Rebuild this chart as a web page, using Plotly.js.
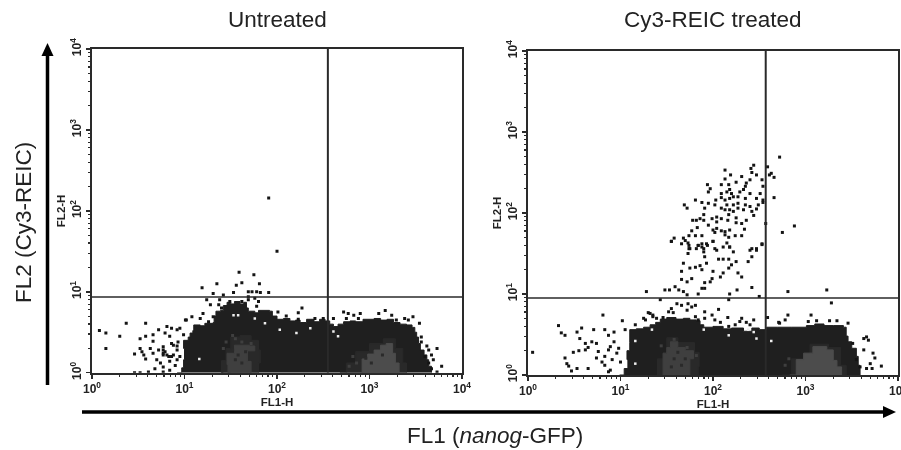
<!DOCTYPE html>
<html><head><meta charset="utf-8">
<script src="https://cdn.plot.ly/plotly-3.0.1.min.js"></script>
<style>html,body{margin:0;padding:0;background:#fff}#c{width:901px;height:450px;filter:blur(0.35px)}</style>
</head><body><div id="c"></div>
<script>
// All values are log10 of fluorescence intensity: [log10 FL1-H, log10 FL2-H]
const panelTitles = ["Untreated", "Cy3-REIC treated"];
const decades = [0, 1, 2, 3, 4];
const gateUntreated = [2.55, 0.936];
const gateTreated = [2.57, 0.95];

const denseUntreated = [[.92,0],[.97,.06],[.99,.16],[1.0,.30],[.99,.40],[1.04,.44],[1.06,.49],[1.09,.52],[1.10,.59],[1.17,.58],[1.22,.61],[1.31,.62],[1.32,.70],[1.34,.76],[1.39,.77],[1.42,.83],[1.46,.87],[1.50,.85],[1.54,.88],[1.60,.85],[1.64,.87],[1.67,.80],[1.69,.76],[1.76,.74],[1.80,.77],[1.92,.76],[1.95,.70],[2.0,.66],[2.07,.67],[2.14,.64],[2.20,.65],[2.25,.62],[2.32,.66],[2.40,.63],[2.46,.66],[2.52,.64],[2.57,.60],[2.61,.57],[2.66,.60],[2.72,.63],[2.79,.64],[2.85,.63],[2.93,.66],[3.05,.67],[3.12,.65],[3.19,.66],[3.26,.62],[3.33,.60],[3.40,.59],[3.46,.56],[3.49,.50],[3.51,.44],[3.53,.36],[3.55,.28],[3.59,.22],[3.62,.16],[3.64,.08],[3.67,0]];
const haloUntreated1 = [[1.42,0],[1.40,.15],[1.45,.30],[1.50,.44],[1.60,.46],[1.72,.40],[1.80,.28],[1.82,.12],[1.80,0]];
const haloUntreated2 = [[2.68,0],[2.75,.12],[2.85,.26],[3.00,.36],[3.15,.42],[3.28,.30],[3.36,.12],[3.40,0]];
const peakUntreated1 = [[1.50,0],[1.47,.10],[1.46,.24],[1.54,.34],[1.70,.33],[1.76,.27],[1.68,.14],[1.72,0]];
const peakUntreated2 = [[2.88,0],[2.92,.17],[2.98,.23],[3.05,.28],[3.12,.34],[3.18,.36],[3.25,.24],[3.28,.12],[3.32,0]];
const speckUntreated = [[1.45,.38],[1.55,.42],[1.62,.38],[1.72,.36],[1.42,.30],[1.52,.46],[2.82,.20],[2.86,.12],[2.78,.08]];
const darkSpeckUntreated = [[1.58,.22],[1.62,.12],[1.55,.16],[1.66,.26],[1.52,.28],[3.02,.12],[3.14,.22],[2.96,.18]];
const holesUntreated = [[1.58,.71],[1.76,.67],[1.87,.61],[2.03,.53],[2.21,.49],[1.16,.17],[2.36,.55],[2.66,.45],[2.61,.51],[1.53,.71]];
const eventsUntreated = [[1.91,2.16],[2.0,1.50],[1.59,1.24],[1.75,1.21],[1.35,1.10],[1.19,1.05],[1.62,1.11],[1.56,1.08],[1.81,1.10],[1.73,1.00],[1.78,1.00],[1.69,1.00],[1.31,.98],[1.42,.96],[1.53,.99],[1.91,.99],[1.82,.99],[1.69,.94],[1.76,.92],[1.69,.90],[1.80,.88],[1.24,.90],[1.38,.90],[1.49,.88],[1.62,.88],[1.28,.84],[1.37,.84],[1.40,.80],[1.78,.82],[2.27,.80],[2.23,.74],[1.20,.73],[1.08,.69],[1.02,.65],[1.17,.67],[1.26,.63],[1.31,.69],[2.01,.75],[2.10,.70],[2.23,.66],[2.41,.67],[2.50,.67],[2.72,.75],[2.77,.73],[2.83,.71],[2.88,.67],[3.10,.73],[3.17,.77],[3.24,.71],[3.29,.65],[3.38,.67],[3.47,.69],[3.54,.61],[3.42,.65],[2.75,.67],[2.61,.67],[2.90,.73],
[.08,.52],[.15,.49],[.30,.45],[.37,.61],[.58,.61],[.15,.30],[.58,.45],[.52,.42],[.66,.47],[.66,.39],[.72,.53],[.81,.57],[.86,.55],[.79,.49],[.84,.45],[.92,.53],[.95,.55],[1.01,.65],[.63,.30],[.52,.30],[.46,.23],[.54,.26],[.56,.22],[.58,.17],[.66,.24],[.72,.28],[.77,.32],[.79,.26],[.77,.22],[.83,.20],[.88,.22],[.92,.28],[.88,.34],[.93,.38],[.99,.47],[.70,.16],[.74,.12],[.68,.05],[.77,.07],[.84,.14],[.90,.09],[.84,.03],[.77,.01],[.61,.01],[.52,0],[.46,0],[.95,.20],[.92,.16],[.77,.28],[.77,.24],[.81,.22],[.86,.20],[.92,.33],[.86,.36],
[3.56,.44],[3.56,.38],[3.62,.33],[3.73,.30],[3.64,.28],[3.67,.22],[3.69,.16],[3.64,.12],[3.67,.05],[3.78,.08],[3.60,.20],[3.73,.01]];

const denseTreated = [[.99,0],[1.04,.08],[1.08,.19],[1.07,.30],[1.10,.40],[1.10,.56],[1.17,.57],[1.25,.59],[1.32,.62],[1.38,.65],[1.43,.69],[1.50,.71],[1.60,.69],[1.68,.70],[1.75,.68],[1.82,.67],[1.86,.62],[1.90,.59],[2.00,.60],[2.11,.57],[2.20,.58],[2.33,.54],[2.42,.58],[2.50,.56],[2.58,.59],[2.70,.59],[2.85,.59],[3.01,.61],[3.10,.63],[3.20,.61],[3.30,.61],[3.41,.59],[3.44,.48],[3.46,.41],[3.50,.33],[3.55,.23],[3.57,.12],[3.59,0]];
const haloTreated1 = [[1.42,0],[1.40,.20],[1.50,.46],[1.62,.40],[1.80,.28],[1.85,.10],[1.84,0]];
const haloTreated2 = [[2.75,0],[2.85,.20],[3.05,.38],[3.25,.34],[3.38,.12],[3.44,0]];
const peakTreated1 = [[1.50,0],[1.46,.27],[1.50,.34],[1.54,.41],[1.62,.34],[1.70,.30],[1.79,.20],[1.75,0]];
const peakTreated2 = [[2.83,0],[2.90,.19],[2.98,.27],[3.08,.35],[3.23,.31],[3.30,.18],[3.34,.10],[3.39,0]];
const speckTreated = [[1.44,.36],[1.58,.44],[1.72,.34],[1.82,.24],[2.78,.12],[2.82,.20]];
const darkSpeckTreated = [[1.58,.20],[1.66,.12],[1.55,.10],[1.62,.28],[1.70,.20]];
const holesTreated = [[1.34,.56],[1.16,.42],[1.16,.14],[1.90,.56],[2.17,.49],[2.38,.56],[2.44,.53],[2.47,.45],[2.63,.42]];
const eventsTreated = [[2.72,2.69],[2.59,2.57],[2.63,2.49],[2.66,2.44],[2.61,2.47],[2.66,2.19],[2.88,1.84],[2.75,1.76],[2.44,2.59],[2.41,2.55],[2.13,2.53],[2.19,2.47],[2.42,2.50],[2.47,2.47],[2.31,2.45],[2.13,2.42],[2.25,2.38],[2.40,2.41],[2.36,2.37],[2.35,2.33],[2.33,2.29],[2.29,2.26],[2.53,2.41],[2.54,2.33],[2.51,2.24],[2.09,2.35],[1.94,2.35],[1.97,2.30],[1.95,2.26],[2.17,2.35],[2.18,2.29],[2.15,2.26],[2.20,2.24],[2.22,2.20],[2.09,2.24],[1.81,2.16],[1.69,2.10],[1.72,2.06],[1.88,2.13],[1.95,2.12],[2.03,2.16],[2.09,2.19],[2.13,2.16],[2.18,2.18],[2.27,2.20],[2.35,2.18],[2.40,2.24],[2.47,2.18],[2.54,2.13],[2.49,2.10],[2.40,2.08],[2.35,2.10],[2.27,2.12],[2.22,2.10],[2.15,2.10],[2.18,2.04],[2.13,2.04],[2.09,2.06],[2.02,2.10],[1.91,2.06],[1.90,1.98],[1.86,1.93],[1.78,1.91],[1.82,1.91],[1.90,1.91],[1.99,1.93],[2.04,1.95],[2.09,1.93],[2.17,1.98],[2.22,2.02],[2.27,2.06],[2.33,2.04],[2.47,2.05],[2.42,2.02],[2.44,1.97],[2.36,1.91],[2.31,1.87],[2.25,1.94],[2.25,1.88],[2.16,1.91],[2.04,1.89],[1.95,1.85],[1.83,1.82],[1.77,1.78],[1.74,1.72],[1.81,1.72],[1.88,1.72],[2.00,1.79],[2.04,1.81],[2.02,1.76],[2.09,1.78],[2.13,1.77],[2.18,1.79],[2.13,1.73],[2.17,1.70],[2.24,1.72],[2.31,1.72],[2.34,1.80],[1.58,1.69],[1.55,1.65],[1.68,1.69],[1.70,1.66],[1.74,1.60],[1.84,1.60],[1.88,1.58],[1.94,1.60],[2.00,1.65],[2.15,1.63],[2.18,1.58],[2.42,1.56],[2.47,1.56],[2.53,1.61],[2.57,1.87],[2.54,2.16],[1.74,1.56],[1.90,1.56],[2.02,1.56],
[1.66,1.62],[1.55,1.65],[1.73,1.63],[1.75,1.56],[1.73,1.50],[1.84,1.60],[1.88,1.62],[1.93,1.62],[1.82,1.56],[1.90,1.52],[1.91,1.46],[2.00,1.65],[2.04,1.54],[2.06,1.43],[2.11,1.58],[2.18,1.58],[2.22,1.52],[2.11,1.43],[2.17,1.43],[2.20,1.36],[2.25,1.40],[2.38,1.40],[2.42,1.46],[2.40,1.54],[2.47,1.54],[2.53,1.62],[1.68,1.38],[1.66,1.28],[1.75,1.32],[1.81,1.33],[1.86,1.35],[1.93,1.38],[1.88,1.30],[1.72,1.15],[1.66,1.18],[1.77,1.19],[1.91,1.14],[1.97,1.15],[2.00,1.28],[1.99,1.19],[2.08,1.21],[2.11,1.26],[2.17,1.32],[2.27,1.26],[2.31,1.21],[2.42,1.08],[2.26,1.05],[2.18,1.00],[1.59,1.09],[1.63,1.05],[1.68,1.03],[1.72,.99],[1.84,1.00],[1.88,1.07],[1.91,1.07],[1.48,1.05],[1.53,1.05],[1.28,1.03],[1.43,.93],[2.17,.93],[2.50,.97],[2.81,1.03],[1.61,.88],[1.55,.82],[1.52,.78],[1.57,.77],[1.66,.86],[1.73,.88],[1.77,.84],[1.72,.80],[1.81,.86],[1.91,.78],[2.06,.81],[1.91,.70],[1.99,.74],[2.02,.68],[2.08,.65],[2.16,.71],[2.31,.70],[2.36,.65],[2.44,.68],[2.59,.71],[2.71,.65],[2.78,.68],[2.17,.60],[2.24,.62],[2.29,.66],[2.40,.62],[1.30,.77],[1.35,.74],[1.39,.70],[1.25,.70],[1.46,.71],[1.81,.72],[1.84,.68],
[3.23,1.05],[3.28,.89],[2.81,.74],[3.06,.74],[2.72,.64],[3.46,.64],[3.34,.67],[3.26,.67],[3.12,.67],[3.03,.66],[3.66,.47],[3.63,.45],[3.68,.43],[3.63,.31],[3.73,.27],[3.75,.21],[3.70,.14],[3.66,.08],[3.82,.11],[3.55,.19],[3.72,.08],[3.59,.10],[3.51,.39],
[.05,.28],[.33,.61],[.36,.52],[.40,.49],[.53,.53],[.58,.58],[.71,.56],[.83,.56],[.81,.74],[.56,.45],[.62,.39],[.69,.41],[.74,.39],[.49,.28],[.55,.30],[.62,.31],[.65,.34],[.76,.29],[.74,.21],[.40,.21],[.42,.14],[.44,.11],[.47,.05],[.53,.08],[.65,.08],[.83,.23],[.87,.31],[.89,.35],[.87,.49],[.93,.53],[1.02,.67],[1.05,.56],[.83,.12],[.87,.04],[.89,.06],[.80,.16],[.96,.27],[.98,.33],[.93,.41],[1.0,.16],[.91,.19],[1.27,.68],[1.32,.76],[1.35,.72],[1.16,.62]];

const pow = v => Math.pow(10, v);
const xs = a => a.map(p => pow(p[0]));
const ys = a => a.map(p => pow(p[1]));

function region(a, color, xa, ya) {
  return {x: xs(a), y: ys(a), xaxis: xa, yaxis: ya, mode: 'lines', fill: 'toself', fillcolor: color,
    line: {color: color, width: 1, shape: 'hv'}, hoverinfo: 'skip', showlegend: false};
}
function dots(a, color, xa, ya, size) {
  return {x: xs(a), y: ys(a), xaxis: xa, yaxis: ya, mode: 'markers', type: 'scatter',
    marker: {symbol: 'square', size: size, color: color, line: {width: 0}}, showlegend: false};
}
function gate(g, xa, ya) {
  return [
    {x: [pow(g[0]), pow(g[0])], y: [1, 10000], xaxis: xa, yaxis: ya, mode: 'lines', line: {color: '#2a2a2a', width: 2}, showlegend: false},
    {x: [1, 10000], y: [pow(g[1]), pow(g[1])], xaxis: xa, yaxis: ya, mode: 'lines', line: {color: '#2a2a2a', width: 1.6}, showlegend: false}
  ];
}
const data = [
  region(denseUntreated, '#1f1f1f', 'x', 'y'),
  region(haloUntreated1, '#292929', 'x', 'y'),
  region(haloUntreated2, '#292929', 'x', 'y'),
  region(peakUntreated1, '#3f3f3f', 'x', 'y'),
  region(peakUntreated2, '#4c4c4c', 'x', 'y'),
  dots(speckUntreated, '#3f3f3f', 'x', 'y', 3),
  dots(darkSpeckUntreated, '#2a2a2a', 'x', 'y', 3),
  dots(holesUntreated, '#eeeeee', 'x', 'y', 2.5),
  dots(eventsUntreated, '#141414', 'x', 'y', 3),
  ...gate(gateUntreated, 'x', 'y'),
  region(denseTreated, '#1f1f1f', 'x2', 'y2'),
  region(haloTreated1, '#292929', 'x2', 'y2'),
  region(haloTreated2, '#292929', 'x2', 'y2'),
  region(peakTreated1, '#3f3f3f', 'x2', 'y2'),
  region(peakTreated2, '#4c4c4c', 'x2', 'y2'),
  dots(speckTreated, '#3f3f3f', 'x2', 'y2', 3),
  dots(darkSpeckTreated, '#2a2a2a', 'x2', 'y2', 3),
  dots(holesTreated, '#eeeeee', 'x2', 'y2', 2.5),
  dots(eventsTreated, '#141414', 'x2', 'y2', 3),
  ...gate(gateTreated, 'x2', 'y2')
];

const majorVals = decades.map(pow);
const majorText = decades.map(d => '10<sup>' + d + '</sup>');
const minorVals = [];
decades.slice(0, 4).forEach(d => { [2,3,4,5,6,7,8,9].forEach(m => minorVals.push(m * pow(d))); });
const tickFont = {family: 'Liberation Sans', size: 12, color: '#222', weight: 700};
const titleFont = {family: 'Liberation Sans', size: 11.5, color: '#222', weight: 700};

function axis(extra, axisTitle, standoff) {
  return Object.assign({
    type: 'log', range: [0, 4], showgrid: false, zeroline: false, showline: true, mirror: true,
    linecolor: '#2a2a2a', linewidth: 2, ticks: 'outside', ticklen: 4, tickwidth: 1.5, tickcolor: '#2a2a2a',
    tickmode: 'array', tickvals: majorVals, ticktext: majorText, tickfont: tickFont, ticklabeloverflow: 'allow',
    minor: {tickmode: 'array', tickvals: minorVals, ticks: 'outside', ticklen: 2, tickwidth: 1.2, tickcolor: '#2a2a2a', showgrid: false},
    title: {text: axisTitle, font: titleFont, standoff: standoff}
  }, extra);
}
const W = 901, H = 450;
const bigFont = {family: 'Liberation Sans', size: 22.5, color: '#222'};
const layout = {
  width: W, height: H, margin: {l: 0, r: 0, t: 0, b: 0}, paper_bgcolor: '#fff', plot_bgcolor: '#fff',
  font: {family: 'Liberation Sans'}, showlegend: false,
  xaxis: axis({domain: [92/W, 462/W], anchor: 'y', tickangle: 0}, 'FL1-H', 0),
  yaxis: axis({domain: [(H-372.7)/H, (H-49)/H], anchor: 'x', tickangle: -90}, 'FL2-H', 0),
  xaxis2: axis({domain: [528/W, 898/W], anchor: 'y2', tickangle: 0}, 'FL1-H', 0),
  yaxis2: axis({domain: [(H-375)/H, (H-51)/H], anchor: 'x2', tickangle: -90}, 'FL2-H', 0),
  shapes: [
    {type:'line',xref:'paper',yref:'paper',x0:47.5/W,x1:47.5/W,y0:1-385/H,y1:1-52/H,line:{color:'#000',width:3.5}},
    {type:'path',xref:'paper',yref:'paper',path:`M ${41.5/W} ${1-56/H} L ${47.5/W} ${1-43/H} L ${53.5/W} ${1-56/H} Z`,fillcolor:'#000',line:{width:0}},
    {type:'line',xref:'paper',yref:'paper',x0:82/W,x1:888/W,y0:1-412/H,y1:1-412/H,line:{color:'#000',width:3.5}},
    {type:'path',xref:'paper',yref:'paper',path:`M ${883/W} ${1-406/H} L ${896/W} ${1-412/H} L ${883/W} ${1-418/H} Z`,fillcolor:'#000',line:{width:0}}
  ],
  annotations: [
    {xref:'paper',yref:'paper',x:277.5/W,y:1-20/H,xanchor:'center',yanchor:'middle',text:panelTitles[0],showarrow:false,font:bigFont},
    {xref:'paper',yref:'paper',x:713/W,y:1-20/H,xanchor:'center',yanchor:'middle',text:panelTitles[1],showarrow:false,font:bigFont},
    {xref:'paper',yref:'paper',x:495/W,y:1-435/H,xanchor:'center',yanchor:'middle',text:'FL1 (<i>nanog</i>-GFP)',showarrow:false,font:bigFont},
    {xref:'paper',yref:'paper',x:23/W,y:1-223/H,xanchor:'center',yanchor:'middle',text:'FL2 (Cy3-REIC)',textangle:-90,showarrow:false,font:bigFont}
  ]
};
Plotly.newPlot('c', data, layout, {staticPlot: true, displayModeBar: false});
</script></body></html>
